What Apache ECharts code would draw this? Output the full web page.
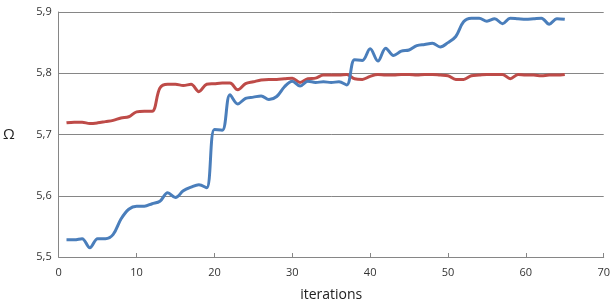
<!DOCTYPE html>
<html>
<head>
<meta charset="utf-8">
<script src="https://cdn.jsdelivr.net/npm/echarts@6/dist/echarts.min.js"></script>
<style>
  html, body { margin: 0; padding: 0; background: #fff; }
  #chart { width: 613px; height: 307px; }
</style>
</head>
<body>
<div id="chart"></div>
<script>
// values, one per iteration (1..65)
const iterations = Array.from({ length: 65 }, (_, i) => i + 1)

const blueValues = [
  5.528, 5.528, 5.530, 5.515, 5.530, 5.530, 5.537, 5.562, 5.578, 5.583,
  5.583, 5.587, 5.591, 5.605, 5.597, 5.608, 5.614, 5.618, 5.613, 5.708,
  5.707, 5.765, 5.750, 5.759, 5.761, 5.763, 5.757, 5.762, 5.778, 5.787,
  5.779, 5.787, 5.785, 5.786, 5.785, 5.786, 5.781, 5.822, 5.821, 5.840,
  5.820, 5.841, 5.829, 5.836, 5.838, 5.845, 5.847, 5.849, 5.843, 5.850,
  5.860, 5.884, 5.890, 5.890, 5.885, 5.889, 5.881, 5.890, 5.889, 5.888,
  5.889, 5.890, 5.880, 5.889, 5.888
]

const redValues = [
  5.719, 5.720, 5.720, 5.718, 5.719, 5.721, 5.723, 5.727, 5.729, 5.737,
  5.738, 5.738, 5.776, 5.782, 5.782, 5.780, 5.782, 5.770, 5.782, 5.783,
  5.784, 5.784, 5.773, 5.783, 5.786, 5.789, 5.790, 5.790, 5.791, 5.792,
  5.785, 5.791, 5.792, 5.797, 5.797, 5.797, 5.798, 5.791, 5.790, 5.795,
  5.798, 5.797, 5.797, 5.798, 5.798, 5.797, 5.798, 5.798, 5.797, 5.796,
  5.790, 5.790, 5.796, 5.797, 5.798, 5.798, 5.798, 5.791, 5.798, 5.797,
  5.797, 5.796, 5.797, 5.797, 5.798
]

const xTicks = [0, 10, 20, 30, 40, 50, 60, 70]
const yTicks = [5.5, 5.6, 5.7, 5.8, 5.9]

const pairs = (ys) => iterations.map((x, i) => [x, ys[i]])

const labelFont = { fontFamily: 'Open Sans', fontSize: 11, color: '#333' }

const chart = echarts.init(document.getElementById('chart'), null, { renderer: 'canvas' })

chart.setOption({
  animation: false,
  grid: { left: 58, right: 7, top: 12, bottom: 43, containLabel: false },
  xAxis: {
    type: 'value',
    min: xTicks[0],
    max: xTicks[xTicks.length - 1],
    interval: 10,
    name: 'iterations',
    nameLocation: 'middle',
    nameGap: 31,
    nameTextStyle: { fontFamily: 'Open Sans', fontSize: 14, color: '#222' },
    axisLine: { lineStyle: { color: '#868686', width: 1 } },
    axisTick: { show: true, inside: true, length: 4, lineStyle: { color: '#868686' } },
    axisLabel: { ...labelFont, margin: 10 },
    splitLine: { show: false }
  },
  yAxis: {
    type: 'value',
    min: yTicks[0],
    max: yTicks[yTicks.length - 1],
    interval: 0.1,
    name: 'Ω',
    nameLocation: 'middle',
    nameRotate: 0,
    nameGap: 44,
    nameTextStyle: { fontFamily: 'Open Sans', fontSize: 15, color: '#222' },
    axisLine: { show: true, lineStyle: { color: '#868686', width: 1 } },
    axisTick: { show: false },
    axisLabel: {
      ...labelFont,
      margin: 7,
      formatter: (v) => v.toFixed(1).replace('.', ',')
    },
    splitLine: { show: true, lineStyle: { color: '#868686', width: 1 } }
  },
  series: [
    {
      name: 'red',
      type: 'line',
      data: pairs(redValues),
      smooth: 0.35,
      showSymbol: false,
      lineStyle: { color: '#be4b48', width: 3 },
      z: 2
    },
    {
      name: 'blue',
      type: 'line',
      data: pairs(blueValues),
      smooth: 0.35,
      showSymbol: false,
      lineStyle: { color: '#4a7ebb', width: 3 },
      z: 3
    }
  ]
})
</script>
</body>
</html>
